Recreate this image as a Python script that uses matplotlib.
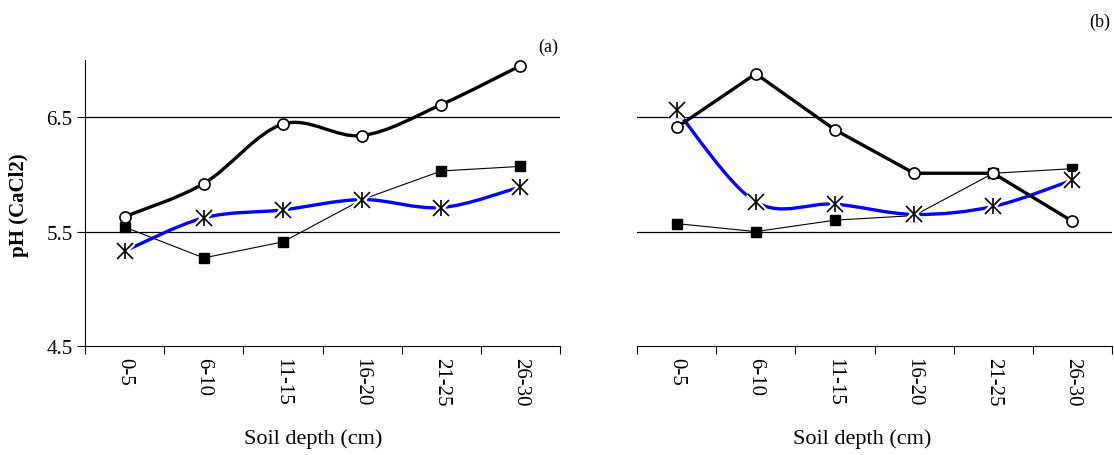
import numpy as np
import matplotlib.pyplot as plt
from matplotlib.path import Path
from matplotlib.patches import PathPatch

plt.rcParams['font.family'] = ['Liberation Serif', 'DejaVu Serif']

# soil depth classes
depths = ["0-5", "6-10", "11-15", "16-20", "21-25", "26-30"]

# pH (CaCl2) per depth, site (a)
a_circle = [5.63, 5.92, 6.44, 6.34, 6.61, 6.95]
a_square = [5.54, 5.27, 5.41, 5.78, 6.03, 6.07]
a_star = [5.33, 5.62, 5.69, 5.78, 5.71, 5.89]

# pH (CaCl2) per depth, site (b)
b_circle = [6.41, 6.88, 6.39, 6.01, 6.01, 5.59]
b_square = [5.57, 5.50, 5.60, 5.64, 6.01, 6.05]
b_star = [6.56, 5.76, 5.74, 5.65, 5.72, 5.95]

yticks = [4.5, 5.5, 6.5]


def smooth_path(x, y):
    # cubic bezier through the points (catmull-rom style control points)
    pts = np.column_stack([x, y])
    n = len(pts)
    verts = [pts[0]]
    codes = [Path.MOVETO]
    for i in range(n - 1):
        p0 = pts[max(i - 1, 0)]
        p1 = pts[i]
        p2 = pts[i + 1]
        p3 = pts[min(i + 2, n - 1)]
        c1 = p1 + (p2 - p0) / 6.0
        c2 = p2 - (p3 - p1) / 6.0
        verts += [c1, c2, p2]
        codes += [Path.CURVE4] * 3
    return Path(verts, codes)


def star(ax, x, y):
    # excel-like star: an x with a vertical bar, white halo under it
    for m in ['x', '|']:
        ax.plot(x, y, ls='none', marker=m, ms=11, mew=4.5, color='white', zorder=5)
    for m in ['x', '|']:
        ax.plot(x, y, ls='none', marker=m, ms=11, mew=1.2, color='black', zorder=6)


fig = plt.figure(figsize=(11.14, 4.56), dpi=100)
ax_a = fig.add_axes([85 / 1114, 1 - 347 / 456, 475 / 1114, 286 / 456])
ax_b = fig.add_axes([637 / 1114, 1 - 347 / 456, 475 / 1114, 286 / 456])

x = np.arange(len(depths)) + 0.5

for ax, circ, sq, st, smooth_circ in [(ax_a, a_circle, a_square, a_star, True),
                                        (ax_b, b_circle, b_square, b_star, False)]:
    ax.set_xlim(0, len(depths))
    ax.set_ylim(4.5, 7.0)
    for g in [5.5, 6.5]:
        ax.axhline(g, color='black', lw=0.9, zorder=1)

    # thin line with filled squares
    ax.plot(x, sq, color='black', lw=0.8, marker='s', ms=7.5,
            mfc='black', mec='black', zorder=3)

    # thick blue smoothed line with stars
    ax.add_patch(PathPatch(smooth_path(x, st), fill=False, ec='#0000ff',
                           lw=2.4, zorder=4, capstyle='butt'))
    star(ax, x, st)

    # thick black line with open circles
    if smooth_circ:
        ax.add_patch(PathPatch(smooth_path(x, circ), fill=False, ec='black',
                               lw=2.4, zorder=7))
    else:
        ax.plot(x, circ, color='black', lw=2.4, zorder=7)
    ax.plot(x, circ, ls='none', marker='o', ms=8, mfc='white', mec='black',
            mew=1.2, zorder=8)

    ax.set_xticks(np.arange(len(depths) + 1))
    ax.set_xticklabels([])
    ax.set_xticks(x, minor=True)
    ax.set_xticklabels(depths, minor=True, rotation=-90, fontsize=15)
    ax.tick_params(axis='x', which='major', direction='out', length=6, width=0.8)
    ax.tick_params(axis='x', which='minor', length=0, pad=8)
    for s in ['top', 'right']:
        ax.spines[s].set_visible(False)
    ax.spines['bottom'].set_linewidth(0.8)
    ax.patch.set_alpha(0)

ax_a.set_yticks(yticks)
ax_a.set_yticklabels([str(v) for v in yticks], fontsize=15)
ax_a.tick_params(axis='y', direction='out', length=6, width=0.8, pad=3)
ax_a.spines['left'].set_linewidth(0.8)

ax_b.spines['left'].set_visible(False)
ax_b.set_yticks([])

fig.text(0.017, 1 - 205 / 456, "pH (CaCl2)", rotation=90, fontsize=15,
         fontweight='bold', ha='center', va='center')
fig.text(313 / 1114, 1 - 439 / 456, "Soil depth (cm)", fontsize=16,
         ha='center', va='center')
fig.text(862 / 1114, 1 - 439 / 456, "Soil depth (cm)", fontsize=16,
         ha='center', va='center')
fig.text(548 / 1114, 1 - 47 / 456, "(a)", fontsize=13, ha='center', va='center')
fig.text(1100 / 1114, 1 - 22 / 456, "(b)", fontsize=13, ha='center', va='center')

fig.savefig("out.png", dpi=100)
